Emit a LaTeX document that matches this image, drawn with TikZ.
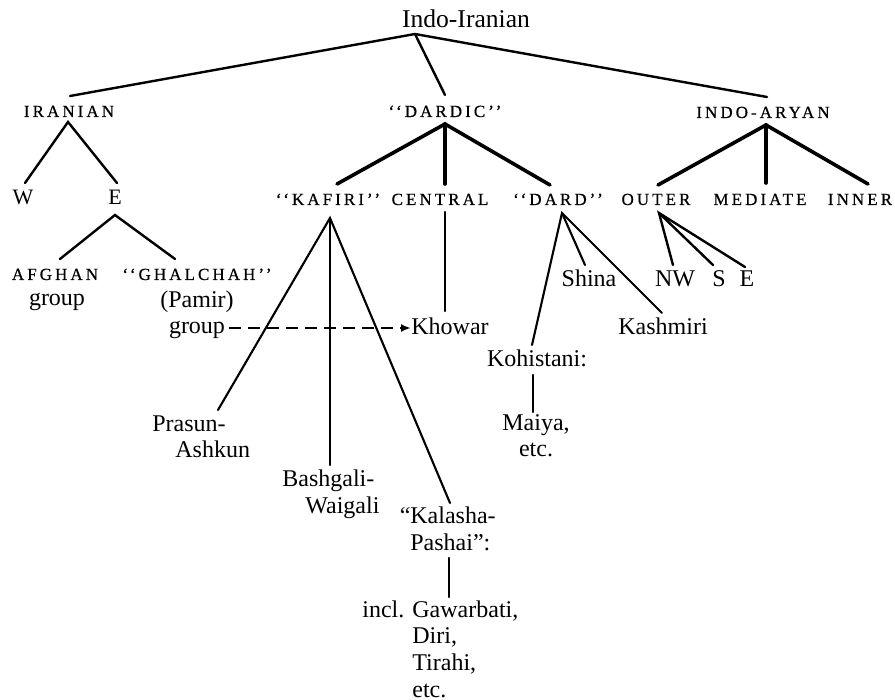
\documentclass[tikz,border=0pt]{standalone}
\usepackage{fontspec}
\setmainfont{Liberation Serif}
\newfontfamily\capsfont[LetterSpace=18,FakeBold=0.6]{Liberation Serif}
\usetikzlibrary{arrows.meta}
\begin{document}
\begin{tikzpicture}[x=0.5pt,y=-0.5pt,
  lbl/.style={inner sep=0pt, anchor=base, font=\fontsize{12}{13.3}\selectfont},
  caps/.style={inner sep=0pt, anchor=base, font=\fontsize{8.5}{10}\capsfont},
  edge/.style={line width=1.2pt, line cap=round},
  thickedge/.style={line width=1.8pt, line cap=round},
  thinedge/.style={line width=1.05pt, line cap=round},
  dasharrow/.style={line width=1.1pt, dash pattern=on 6pt off 3.5pt, -{Latex[length=5pt,width=4pt]}}]
\useasboundingbox (0,0) rectangle (895,700);

% ---- labels (multi-line nodes: base = baseline of last line) ----
\node[lbl, font=\fontsize{12.8}{14}\selectfont] (ii) at (466,28) {Indo-Iranian};
\node[caps] (iran) at (69,117) {IRANIAN};
\node[caps] (dardic) at (445,117) {‘‘DARDIC’’};
\node[caps] (ia) at (763,118) {INDO-ARYAN};

\node[lbl, font=\fontsize{11}{12}\selectfont] (w) at (23,205) {W};
\node[lbl, font=\fontsize{11}{12}\selectfont] (e) at (115,205) {E};
\node[caps] (afghan) at (55,280) {AFGHAN};
\node[lbl] (afgroup) at (57,306) {group};
\node[caps] (ghal) at (197,280) {‘‘GHALCHAH’’};
\node[lbl, align=center] (pamir) at (197,334) {(Pamir)\\group};

\node[caps] (kafiri) at (328,205) {‘‘KAFIRI’’};
\node[caps] (central) at (440,205) {CENTRAL};
\node[caps] (dard) at (558,205) {‘‘DARD’’};
\node[caps] (outer) at (656,205) {OUTER};
\node[caps] (mediate) at (760,205) {MEDIATE};
\node[caps] (inner) at (860,205) {INNER};

\node[lbl] (khowar) at (450,335) {Khowar};
\node[lbl] (shina) at (589,287) {Shina};
\node[lbl] (kashmiri) at (663,335) {Kashmiri};
\node[lbl] (nw) at (675,287) {NW};
\node[lbl] (s) at (719,287) {S};
\node[lbl] (ea) at (747,287) {E};
\node[lbl] (kohistani) at (537,367) {Kohistani:};
\node[lbl, align=center] (maiya) at (536,457) {Maiya,\\etc.};

\node[lbl, anchor=base west, align=left] (prasun) at (152,458) {Prasun-\\\hspace*{11.5pt}Ashkun};
\node[lbl, anchor=base west, align=left] (bashgali) at (282,513) {Bashgali-\\\hspace*{11.5pt}Waigali};
\node[lbl, anchor=base west, align=left] (kalasha) at (410,550) {\llap{“}Kalasha-\\Pashai”:};
\node[lbl, anchor=base west, align=left] (incl) at (412,697) {\llap{incl. }Gawarbati,\\Diri,\\Tirahi,\\etc.};

% ---- connector points ----
\coordinate (ii-j) at (415,34);
\coordinate (iran-t) at (70,96);
\coordinate (dardic-t) at (445,95);
\coordinate (ia-t) at (767,97);

\coordinate (iran-b) at (68,122);
\coordinate (w-t) at (25,183);
\coordinate (e-t) at (117,183);
\coordinate (e-b) at (115,215);
\coordinate (afghan-t) at (60,259);
\coordinate (ghal-t) at (175,259);

\coordinate (dardic-b) at (445,124);
\coordinate (kafiri-t) at (337,184);
\coordinate (central-t) at (445,184);
\coordinate (dard-t) at (550,185);

\coordinate (ia-b) at (766,125);
\coordinate (outer-t) at (658,185);
\coordinate (mediate-t) at (766,183);
\coordinate (inner-t) at (868,184);

\coordinate (kafiri-b) at (330,218);
\coordinate (prasun-t) at (218,410);
\coordinate (bashgali-t) at (330,465);
\coordinate (kalasha-t) at (450,503);

\coordinate (central-b) at (445,212);
\coordinate (khowar-t) at (445,311);

\coordinate (dard-b) at (562,213);
\coordinate (shina-t) at (585,265);
\coordinate (kashmiri-t) at (662,313);
\coordinate (kohistani-t) at (532,345);
\coordinate (kohistani-b) at (533,375);
\coordinate (maiya-t) at (533,412);

\coordinate (outer-b) at (659,213);
\coordinate (nw-t) at (673,265);
\coordinate (s-t) at (713,265);
\coordinate (ea-t) at (745,267);

\coordinate (kalasha-b) at (449,558);
\coordinate (incl-t) at (449,597);

\coordinate (ghgroup-e) at (229,328);
\coordinate (khowar-w) at (411,328);

% ---- connectors ----
\draw[edge] (iran-t) -- (ii-j) -- (ia-t);
\draw[edge] (ii-j) -- (dardic-t);

\draw[edge] (w-t) -- (iran-b) -- (e-t);
\draw[edge] (afghan-t) -- (e-b) -- (ghal-t);

\draw[thickedge] (kafiri-t) -- (dardic-b) -- (dard-t);
\draw[thickedge] (dardic-b) -- (central-t);

\draw[thickedge] (outer-t) -- (ia-b) -- (inner-t);
\draw[thickedge] (ia-b) -- (mediate-t);

\draw[thinedge] (prasun-t) -- (kafiri-b) -- (kalasha-t);
\draw[thinedge] (kafiri-b) -- (bashgali-t);
\draw[edge] (central-b) -- (khowar-t);

\draw[thinedge] (kohistani-t) -- (dard-b) -- (kashmiri-t);
\draw[thinedge] (dard-b) -- (shina-t);
\draw[thinedge] (kohistani-b) -- (maiya-t);

\draw[edge] (nw-t) -- (outer-b) -- (ea-t);
\draw[edge] (outer-b) -- (s-t);

\draw[thinedge] (kalasha-b) -- (incl-t);

\draw[dasharrow] (ghgroup-e) -- (khowar-w);
\end{tikzpicture}
\end{document}
